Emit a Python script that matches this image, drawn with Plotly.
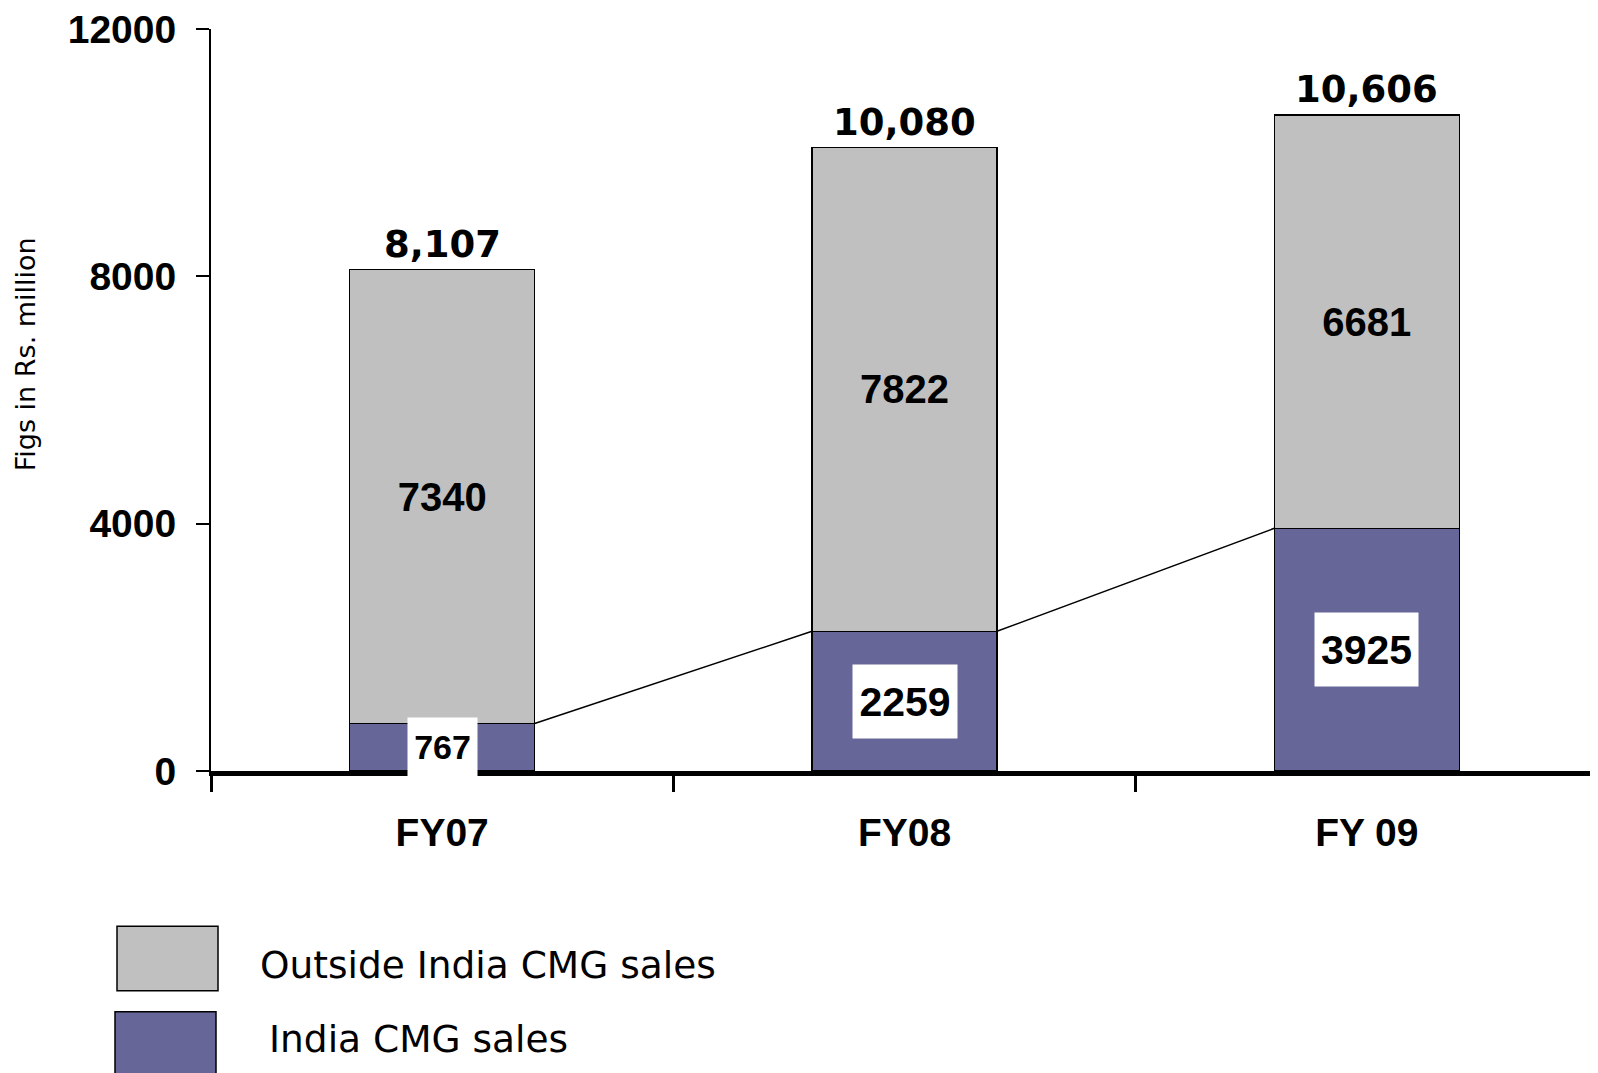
import plotly.graph_objects as go

# data
years = ['FY07', 'FY08', 'FY 09']
india_sales = [767, 2259, 3925]
outside_sales = [7340, 7822, 6681]
totals = [8107, 10080, 10606]
y_ticks = [0, 4000, 8000, 12000]
y_tick_text = ['0', '4000', '8000', '12000']
series_names = ['Outside India CMG sales', 'India CMG sales']

GREY = '#C0C0C0'
PURPLE = '#666699'
ARIAL = 'Liberation Sans'
VERDANA = 'DejaVu Sans'

# the page body adds an 8px offset, so the figure is a bit smaller than the window
OFF = 8
W, H = 1590, 1065
L, R, T, B = 203, 0, 17, 302
BAR_W = 0.4


def paper_x(px):
    # px is a position on the final page
    return (px - OFF - L) / (W - L - R)


def paper_y(py):
    return (H - B - (py - OFF)) / (H - T - B)


xs = list(range(len(years)))
fig = go.Figure()

fig.add_trace(go.Bar(
    x=xs, y=india_sales, width=BAR_W, name=series_names[1],
    marker_color=PURPLE, marker_line=dict(color='black', width=1.5),
))
fig.add_trace(go.Bar(
    x=xs, y=outside_sales, width=BAR_W, name=series_names[0],
    marker_color=GREY, marker_line=dict(color='black', width=1.5),
    text=[str(v) for v in outside_sales], textposition='inside',
    insidetextanchor='middle', textangle=0,
    insidetextfont=dict(family=ARIAL, size=40, color='black', weight='bold'),
))

# series lines joining the India segments
lx, ly = [], []
for i in range(len(xs) - 1):
    lx += [xs[i] + BAR_W / 2, xs[i + 1] - BAR_W / 2, None]
    ly += [india_sales[i], india_sales[i + 1], None]
fig.add_trace(go.Scatter(x=lx, y=ly, mode='lines',
                         line=dict(color='black', width=1.5), hoverinfo='skip'))

annotations = []
# India labels in white boxes
box_sizes = [(69, 58, 34), (104, 73, 41), (103, 73, 41)]
for i, v in enumerate(india_sales):
    bw, bh, fs = box_sizes[i]
    annotations.append(dict(
        x=xs[i], y=v / 2, text=str(v), showarrow=False,
        bgcolor='white', borderpad=0, width=bw, height=bh,
        font=dict(family=ARIAL, size=fs, color='black', weight='bold'),
    ))
# totals on top
for i, v in enumerate(totals):
    annotations.append(dict(
        x=xs[i], y=v, text=f'{v:,}', showarrow=False, yanchor='bottom',
        yshift=2,
        font=dict(family=VERDANA, size=37, color='black', weight='bold'),
    ))
# y axis title
annotations.append(dict(
    xref='paper', yref='paper', x=paper_x(25), y=paper_y(352),
    xanchor='center', yanchor='middle',
    text='Figs in Rs. million', textangle=-90, showarrow=False,
    font=dict(family=VERDANA, size=27, color='black'),
))

# legend drawn by hand (big swatches)
shapes = []
legend_rows = [
    (series_names[0], GREY, (117, 927, 218, 992), (258, 966)),
    (series_names[1], PURPLE, (115, 1013, 216, 1080), (267, 1040)),
]
for name, color, (x0, y0, x1, y1), (tx, ty) in legend_rows:
    shapes.append(dict(type='rect', xref='paper', yref='paper',
                       x0=paper_x(x0), x1=paper_x(x1), y0=paper_y(y0), y1=paper_y(y1),
                       fillcolor=color, line=dict(color='black', width=1.5)))
    annotations.append(dict(xref='paper', yref='paper', x=paper_x(tx), y=paper_y(ty),
                            xanchor='left', yanchor='middle', text=name, showarrow=False,
                            font=dict(family=VERDANA, size=37.5, color='black')))

fig.update_layout(
    width=W, height=H,
    margin=dict(l=L, r=R, t=T, b=B),
    paper_bgcolor='white', plot_bgcolor='white',
    barmode='stack', showlegend=False,
    annotations=annotations, shapes=shapes,
    xaxis=dict(
        range=[-0.5, 2.5], tickvals=xs, ticktext=years, ticks='',
        showgrid=False, zeroline=False,
        showline=True, linecolor='black', linewidth=5,
        tickfont=dict(family=ARIAL, size=39, color='black', weight='bold'),
        ticklabelstandoff=23,
        minor=dict(tickvals=[-0.5, 0.5, 1.5, 2.5], ticks='outside',
                   ticklen=16, tickwidth=3, tickcolor='black'),
    ),
    yaxis=dict(
        range=[0, 12000], tickvals=y_ticks, ticktext=y_tick_text, ticks='outside',
        ticklen=13, tickwidth=2, tickcolor='black',
        showgrid=False, zeroline=False,
        showline=True, linecolor='black', linewidth=2,
        tickfont=dict(family=ARIAL, size=39, color='black', weight='bold'),
        ticklabelstandoff=12, ticklabeloverflow='allow',
    ),
)

fig.write_html('out.html')
